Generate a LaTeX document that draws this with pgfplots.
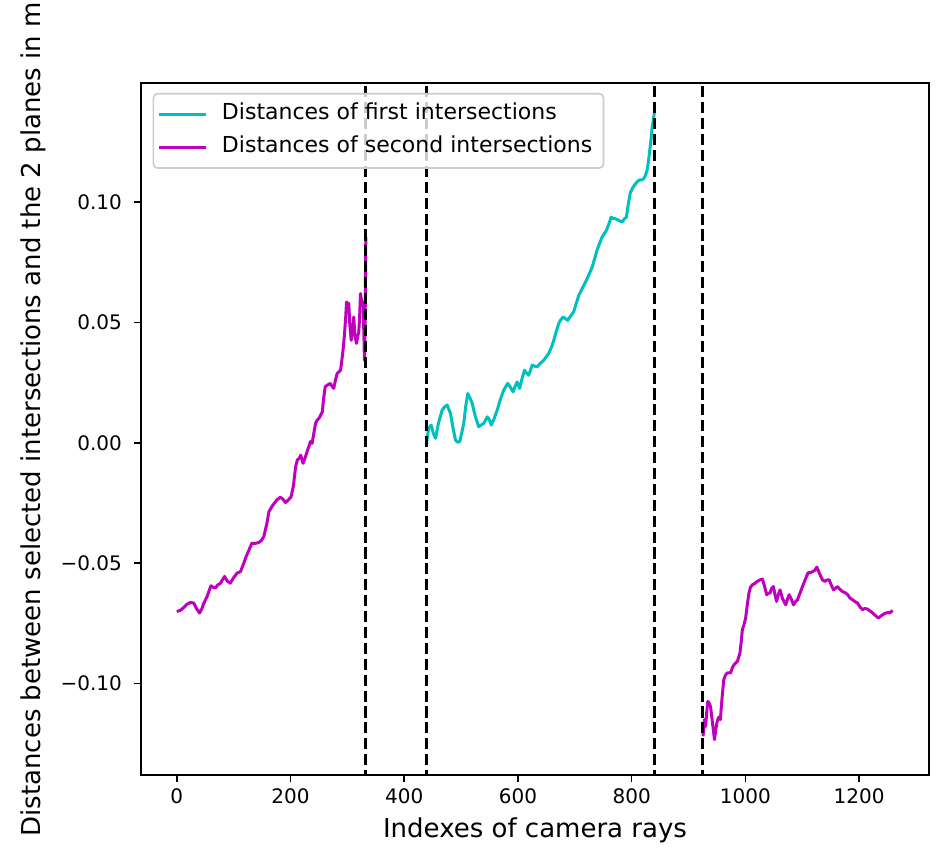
\documentclass[border=0pt]{standalone}
\usepackage{pgfplots}
\pgfplotsset{compat=1.18}
\usepackage{fontspec}
\setmainfont{DejaVu Sans}
\definecolor{mplc}{HTML}{00BFBF}
\definecolor{mplm}{HTML}{BF00BF}
\begin{document}
\begin{tikzpicture}
\begin{axis}[
  scale only axis, width=394pt, height=346pt,
  xmin=-63, xmax=1323, ymin=-0.138, ymax=0.1495,
  axis line style={line width=0.8pt},
  tick align=outside, tick pos=left,
  major tick length=3.5pt,
  every tick/.style={black, line width=0.8pt},
  xtick={0,200,400,600,800,1000,1200},
  xticklabels={0,200,400,600,800,1000,1200},
  ytick={-0.1,-0.05,0,0.05,0.1},
  yticklabels={−0.10,−0.05,0.00,0.05,0.10},
  ticklabel style={font=\fontsize{10}{12}\selectfont},
  yticklabel style={xshift=-2.5pt},
  xlabel={Indexes of camera rays},
  ylabel={Distances between selected intersections and the 2 planes in m},
  xlabel style={font=\fontsize{13}{15}\selectfont, at={(axis description cs:0.5,0)}, anchor=base, yshift=-31.15pt},
  ylabel style={font=\fontsize{13}{15}\selectfont, at={(axis description cs:-0.127,0.514)}, anchor=base},
  legend cell align=left,
  legend image code/.code={\draw[#1] (0pt,0pt) -- (23.5pt,0pt);},
  legend style={at={(0,1)}, anchor=north west, xshift=5.8pt, yshift=-5pt,
    draw=black!20, line width=0.8pt, rounded corners=2pt, fill=white, fill opacity=0.8, text opacity=1,
    font=\fontsize{11}{13}\selectfont, inner xsep=2.3pt, inner ysep=2.15pt,
    nodes={inner xsep=3.3pt, inner ysep=3.2pt, text height=0.76em, text depth=0.24em},
    /tikz/every odd column/.append style={column sep=3.7pt}},
]
\addplot[mplc, line width=1.5pt, line join=round] coordinates {
(439,-0.0009) (441,0.0030) (443,0.0060) (447.4,0.0074) (451,0.0040) (455,0.0019) (460,0.0080) (466.7,0.0136) (471,0.0150) (475.5,0.0157) (481.3,0.0122) (486,0.0060) (490,0.0012) (494,0.0003) (497.7,0.0005) (501,0.0040) (504.7,0.0081) (508,0.0150) (511.8,0.0205) (515,0.0190) (519.5,0.0164) (525,0.0110) (531,0.0067) (536,0.0075) (540,0.0081) (546,0.0108) (549,0.0100) (553,0.0074) (558,0.0100) (563.5,0.0136) (569,0.0180) (575,0.0219) (582,0.0247) (587,0.0230) (591.6,0.0212) (595,0.0235) (598.6,0.0253) (603,0.0226) (607,0.0265) (611.5,0.0302) (615,0.0290) (619,0.0281) (625,0.0323) (630,0.0318) (633.8,0.0316) (639,0.0330) (645.4,0.0343) (650,0.0358) (654,0.0371) (659,0.0398) (663,0.0426) (667,0.0460) (671.8,0.0496) (675,0.0510) (679.5,0.0523) (684,0.0515) (687.6,0.0509) (692,0.0525) (698,0.0544) (702,0.0575) (707,0.0613) (713,0.0641) (717,0.0660) (721.7,0.0682) (726,0.0705) (730.5,0.0730) (735,0.0765) (739,0.0800) (743,0.0825) (748,0.0855) (755.6,0.0883) (760,0.0910) (764,0.0938) (767,0.0932) (771.5,0.0931) (777,0.0925) (783,0.0917) (787,0.0930) (790.8,0.0938) (794,0.0990) (797.8,0.1041) (802,0.1060) (806.6,0.1076) (810,0.1085) (814,0.1093) (818,0.1092) (821,0.1097) (824,0.1110) (827,0.1131) (829,0.1160) (831.8,0.1214) (834,0.1260) (836,0.1311) (838,0.1340) (840,0.1373)
};
\addlegendentry{Distances of first intersections}
\addplot[mplm, line width=1.5pt, line join=round] coordinates {
(0,-0.0701) (6,-0.0696) (12,-0.0685) (17,-0.0672) (24,-0.0663) (30,-0.0666) (35,-0.0690) (40,-0.0707) (44,-0.0690) (47,-0.0669) (53,-0.0640) (60,-0.0594) (64,-0.0600) (68,-0.0603) (72,-0.0590) (77,-0.0583) (80,-0.0570) (84,-0.0555) (89,-0.0575) (94,-0.0583) (100,-0.0560) (106,-0.0541) (112,-0.0535) (117,-0.0505) (122,-0.0472) (127,-0.0445) (132,-0.0417) (138,-0.0418) (144,-0.0414) (149,-0.0405) (153,-0.0389) (158,-0.0340) (162,-0.0286) (168,-0.0262) (176,-0.0237) (182,-0.0226) (187,-0.0235) (191,-0.0248) (196,-0.0238) (201,-0.0224) (205,-0.0180) (209,-0.0099) (212,-0.0071) (215,-0.0065) (218,-0.0051) (222,-0.0085) (226,-0.0060) (229,-0.0037) (233,-0.0010) (235,0.0005) (238,-0.0002) (241,0.0040) (244,0.0081) (247,0.0095) (251,0.0105) (256,0.0129) (258,0.0180) (261,0.0233) (265,0.0240) (270,0.0247) (273,0.0235) (276,0.0226) (279,0.0260) (282,0.0288) (285,0.0295) (288,0.0302) (291,0.0357) (293,0.0400) (295,0.0454) (297,0.0520) (298.5,0.0585) (301,0.0575) (302.5,0.0579) (304,0.0500) (306.7,0.0426) (309,0.0470) (311.3,0.0523) (313,0.0450) (316,0.0413) (318,0.0440) (320,0.0461) (321.5,0.0520) (323,0.0620) (325,0.0590) (327.8,0.0579) (329,0.0450) (330,0.0343) (331.2,0.0500) (332.4,0.0855)
};
\addlegendentry{Distances of second intersections}
\addplot[mplm, line width=1.5pt, line join=round, forget plot] coordinates {
(925.6,-0.1219) (928,-0.1150) (930,-0.1178) (932,-0.1120) (934,-0.1074) (936,-0.1080) (938.7,-0.1095) (942,-0.1160) (945.7,-0.1233) (948,-0.1190) (950.5,-0.1157) (953,-0.1140) (956,-0.1150) (959,-0.1060) (962,-0.0984) (965,-0.0965) (968,-0.0956) (974,-0.0956) (977,-0.0935) (980,-0.0922) (986,-0.0908) (990.5,-0.0873) (993,-0.0820) (994.7,-0.0776) (997,-0.0760) (1000.5,-0.0728) (1003,-0.0680) (1006.3,-0.0624) (1009,-0.0600) (1012.3,-0.0590) (1016,-0.0585) (1021,-0.0576) (1025,-0.0570) (1030,-0.0566) (1033,-0.0590) (1037.6,-0.0631) (1040,-0.0625) (1043.4,-0.0624) (1046,-0.0605) (1049.4,-0.0597) (1052,-0.0630) (1055,-0.0659) (1058,-0.0630) (1061,-0.0611) (1065,-0.0645) (1068,-0.0660) (1071,-0.0673) (1074,-0.0650) (1077,-0.0631) (1081,-0.0650) (1084.7,-0.0673) (1088,-0.0660) (1091.7,-0.0652) (1096,-0.0625) (1100.5,-0.0597) (1105,-0.0570) (1110.4,-0.0539) (1114,-0.0540) (1118,-0.0535) (1122,-0.0530) (1125.7,-0.0516) (1129,-0.0535) (1132.7,-0.0555) (1136,-0.0570) (1139.8,-0.0576) (1143,-0.0570) (1147.4,-0.0569) (1151,-0.0590) (1155,-0.0611) (1158,-0.0605) (1162,-0.0597) (1166,-0.0608) (1171,-0.0618) (1175,-0.0622) (1180,-0.0631) (1184,-0.0645) (1188.6,-0.0652) (1193,-0.0660) (1197.4,-0.0666) (1201,-0.0680) (1206,-0.0693) (1210,-0.0688) (1215,-0.0691) (1220,-0.0700) (1224,-0.0707) (1229,-0.0718) (1234,-0.0728) (1238,-0.0720) (1241.6,-0.0714) (1246,-0.0708) (1250.4,-0.0705) (1254,-0.0707) (1259,-0.0696)
};
\addplot[black, line width=1.5pt, dash pattern=on 5.55pt off 2.4pt, forget plot] coordinates {(332.5,-0.2) (332.5,0.2)};
\addplot[black, line width=1.5pt, dash pattern=on 5.55pt off 2.4pt, forget plot] coordinates {(438.6,-0.2) (438.6,0.2)};
\addplot[black, line width=1.5pt, dash pattern=on 5.55pt off 2.4pt, forget plot] coordinates {(840.5,-0.2) (840.5,0.2)};
\addplot[black, line width=1.5pt, dash pattern=on 5.55pt off 2.4pt, forget plot] coordinates {(924.5,-0.2) (924.5,0.2)};
\end{axis}
\pgfresetboundingbox
\path (-70.5pt,-39pt) rectangle (397.5pt,387.5pt);
\end{tikzpicture}
\end{document}
